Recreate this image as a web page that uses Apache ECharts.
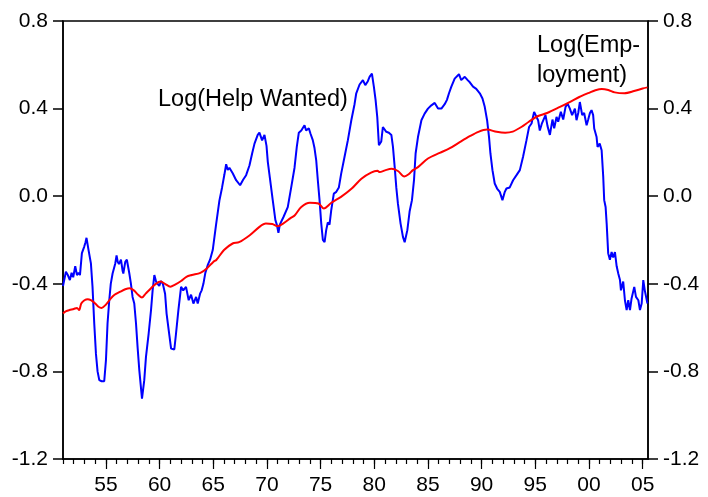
<!DOCTYPE html>
<html>
<head>
<meta charset="utf-8">
<script src="https://cdn.jsdelivr.net/npm/echarts@6/dist/echarts.min.js"></script>
<style>
  html, body { margin: 0; padding: 0; background: #fff; }
  #chart { width: 708px; height: 497px; }
</style>
</head>
<body>
<div id="chart"></div>
<script>
// log of help-wanted index, [year, value]
const helpWanted = [
  [1951.0, -0.41], [1951.27, -0.345], [1951.45, -0.36], [1951.64, -0.383], [1951.8, -0.35],
  [1951.95, -0.37], [1952.14, -0.32], [1952.3, -0.36], [1952.45, -0.35], [1952.58, -0.36],
  [1952.76, -0.26], [1952.98, -0.23], [1953.1, -0.21], [1953.19, -0.19], [1953.38, -0.246],
  [1953.6, -0.307], [1953.75, -0.414], [1953.91, -0.58], [1954.07, -0.72], [1954.22, -0.8],
  [1954.38, -0.84], [1954.6, -0.845], [1954.84, -0.845], [1955.0, -0.75], [1955.15, -0.58],
  [1955.31, -0.475], [1955.45, -0.4], [1955.62, -0.353], [1955.87, -0.307], [1955.99, -0.27],
  [1956.1, -0.3], [1956.21, -0.31], [1956.4, -0.29], [1956.55, -0.34], [1956.62, -0.353],
  [1956.8, -0.3], [1956.95, -0.29], [1957.18, -0.353], [1957.33, -0.4], [1957.48, -0.46],
  [1957.64, -0.49], [1957.8, -0.58], [1957.95, -0.69], [1958.11, -0.795], [1958.36, -0.924],
  [1958.57, -0.84], [1958.73, -0.734], [1958.98, -0.627], [1959.2, -0.52], [1959.35, -0.43],
  [1959.51, -0.36], [1959.67, -0.39], [1959.82, -0.4], [1959.97, -0.41], [1960.13, -0.387],
  [1960.3, -0.4], [1960.51, -0.445], [1960.65, -0.536], [1960.91, -0.635], [1961.07, -0.696],
  [1961.37, -0.7], [1961.53, -0.627], [1961.75, -0.52], [1962.0, -0.414], [1962.2, -0.43],
  [1962.46, -0.414], [1962.71, -0.475], [1962.93, -0.45], [1963.15, -0.49], [1963.4, -0.46],
  [1963.55, -0.49], [1963.77, -0.445], [1963.92, -0.43], [1964.08, -0.4], [1964.26, -0.35],
  [1964.48, -0.315], [1964.7, -0.29], [1964.95, -0.246], [1965.26, -0.13], [1965.57, -0.02],
  [1965.82, 0.04], [1966.04, 0.1], [1966.2, 0.146], [1966.35, 0.12], [1966.5, 0.13],
  [1966.81, 0.105], [1967.13, 0.073], [1967.5, 0.05], [1967.78, 0.075], [1968.06, 0.096],
  [1968.37, 0.14], [1968.62, 0.195], [1968.84, 0.24], [1969.14, 0.28], [1969.3, 0.29],
  [1969.55, 0.255], [1969.77, 0.28], [1969.96, 0.23], [1970.08, 0.157], [1970.3, 0.073],
  [1970.54, -0.018], [1970.79, -0.11], [1970.92, -0.13], [1971.07, -0.167], [1971.2, -0.13],
  [1971.33, -0.125], [1971.54, -0.095], [1971.7, -0.1], [1971.94, -0.05], [1972.26, 0.04],
  [1972.57, 0.13], [1972.78, 0.225], [1972.97, 0.29], [1973.2, 0.3], [1973.5, 0.324],
  [1973.65, 0.3], [1973.9, 0.31], [1974.06, 0.285], [1974.27, 0.256], [1974.43, 0.22],
  [1974.59, 0.164], [1974.74, 0.073], [1974.9, -0.018], [1975.06, -0.125], [1975.21, -0.2],
  [1975.37, -0.21], [1975.52, -0.155], [1975.67, -0.12], [1975.83, -0.13], [1975.99, -0.064],
  [1976.23, 0.012], [1976.46, 0.02], [1976.7, 0.04], [1976.92, 0.104], [1977.23, 0.18],
  [1977.54, 0.256], [1977.86, 0.347], [1978.16, 0.42], [1978.32, 0.47], [1978.63, 0.51],
  [1978.94, 0.53], [1979.16, 0.507], [1979.4, 0.525], [1979.56, 0.545], [1979.78, 0.56],
  [1979.96, 0.5], [1980.12, 0.44], [1980.28, 0.36], [1980.43, 0.233], [1980.65, 0.25],
  [1980.8, 0.316], [1980.96, 0.325], [1981.12, 0.294], [1981.36, 0.29], [1981.59, 0.28],
  [1981.74, 0.225], [1981.9, 0.134], [1982.05, 0.04], [1982.2, -0.033], [1982.45, -0.125],
  [1982.67, -0.186], [1982.83, -0.21], [1983.08, -0.155], [1983.29, -0.07], [1983.51, -0.018],
  [1983.7, 0.073], [1983.85, 0.195], [1984.07, 0.27], [1984.39, 0.347], [1984.69, 0.377],
  [1985.0, 0.4], [1985.32, 0.415], [1985.63, 0.426], [1985.94, 0.4], [1986.25, 0.4],
  [1986.56, 0.42], [1986.77, 0.44], [1986.96, 0.47], [1987.18, 0.5], [1987.49, 0.537],
  [1987.89, 0.557], [1988.1, 0.53], [1988.43, 0.545], [1988.7, 0.53], [1988.9, 0.52],
  [1989.2, 0.5], [1989.5, 0.49], [1989.83, 0.47], [1990.08, 0.446], [1990.29, 0.408],
  [1990.51, 0.347], [1990.69, 0.27], [1990.82, 0.195], [1991.01, 0.119], [1991.22, 0.058],
  [1991.44, 0.035], [1991.69, 0.02], [1991.94, -0.018], [1992.16, 0.02], [1992.31, 0.035],
  [1992.62, 0.04], [1992.93, 0.073], [1993.25, 0.096], [1993.56, 0.119], [1993.86, 0.18],
  [1994.18, 0.256], [1994.42, 0.316], [1994.65, 0.332], [1994.89, 0.385], [1995.05, 0.39],
  [1995.26, 0.347], [1995.42, 0.3], [1995.6, 0.33], [1995.95, 0.37], [1996.14, 0.32],
  [1996.36, 0.28], [1996.6, 0.35], [1996.76, 0.31], [1996.98, 0.362], [1997.13, 0.34],
  [1997.38, 0.385], [1997.6, 0.35], [1997.82, 0.408], [1998.01, 0.423], [1998.22, 0.4],
  [1998.43, 0.37], [1998.69, 0.4], [1998.84, 0.347], [1999.0, 0.38], [1999.15, 0.43],
  [1999.37, 0.37], [1999.55, 0.38], [1999.78, 0.324], [1999.93, 0.35], [2000.09, 0.38],
  [2000.24, 0.393], [2000.39, 0.37], [2000.49, 0.309], [2000.71, 0.27], [2000.8, 0.225],
  [2001.0, 0.24], [2001.18, 0.21], [2001.33, 0.088], [2001.42, -0.018], [2001.55, -0.049],
  [2001.65, -0.125], [2001.79, -0.26], [2001.95, -0.29], [2002.11, -0.255], [2002.26, -0.28],
  [2002.42, -0.255], [2002.58, -0.32], [2002.73, -0.353], [2002.89, -0.383], [2002.98, -0.43],
  [2003.19, -0.39], [2003.35, -0.475], [2003.51, -0.52], [2003.66, -0.475], [2003.82, -0.52],
  [2003.97, -0.467], [2004.22, -0.414], [2004.38, -0.46], [2004.6, -0.475], [2004.75, -0.52],
  [2004.91, -0.49], [2005.06, -0.383], [2005.2, -0.43], [2005.45, -0.49]
];

// log of employment, [year, value]
const employment = [
  [1951.0, -0.535], [1951.3, -0.525], [1951.6, -0.52], [1952.0, -0.515], [1952.3, -0.51],
  [1952.5, -0.52], [1952.7, -0.49], [1953.0, -0.475], [1953.3, -0.47], [1953.6, -0.475],
  [1954.0, -0.49], [1954.3, -0.505], [1954.6, -0.51], [1955.0, -0.495], [1955.4, -0.47],
  [1955.8, -0.45], [1956.3, -0.437], [1956.8, -0.425], [1957.2, -0.42], [1957.6, -0.43],
  [1958.0, -0.45], [1958.35, -0.463], [1958.7, -0.445], [1959.2, -0.42], [1959.65, -0.4],
  [1960.1, -0.39], [1960.5, -0.4], [1961.0, -0.413], [1961.4, -0.405], [1962.0, -0.387],
  [1962.5, -0.368], [1963.0, -0.36], [1963.8, -0.35], [1964.4, -0.33], [1965.0, -0.3],
  [1965.3, -0.29], [1966.0, -0.246], [1966.8, -0.216], [1967.4, -0.21], [1968.4, -0.178],
  [1969.3, -0.14], [1969.9, -0.125], [1970.5, -0.127], [1971.0, -0.137], [1971.5, -0.125],
  [1972.2, -0.1], [1972.6, -0.087], [1973.2, -0.049], [1974.0, -0.03], [1974.8, -0.033],
  [1975.3, -0.056], [1976.0, -0.03], [1976.9, -0.003], [1977.9, 0.035], [1978.8, 0.08],
  [1979.7, 0.108], [1980.3, 0.116], [1980.5, 0.11], [1981.0, 0.118], [1981.6, 0.125],
  [1982.2, 0.115], [1982.8, 0.09], [1983.2, 0.1], [1983.6, 0.119], [1984.1, 0.134],
  [1985.0, 0.172], [1986.1, 0.198], [1987.0, 0.218], [1988.0, 0.248], [1988.9, 0.274],
  [1989.7, 0.294], [1990.5, 0.304], [1991.4, 0.294], [1992.2, 0.29], [1992.9, 0.295],
  [1993.7, 0.316], [1994.4, 0.34], [1995.2, 0.365], [1996.1, 0.38], [1997.3, 0.408],
  [1998.2, 0.43], [1999.1, 0.453], [2000.0, 0.472], [2000.6, 0.484], [2001.2, 0.49],
  [2001.8, 0.485], [2002.4, 0.474], [2003.3, 0.47], [2004.2, 0.48], [2005.0, 0.492],
  [2005.45, 0.497]
];

const yearTicks = [];
for (let y = 1951; y <= 2005; y++) yearTicks.push(y);
const labelYears = [1955, 1960, 1965, 1970, 1975, 1980, 1985, 1990, 1995, 2000, 2005];
const yMin = -1.2, yMax = 0.8, yStep = 0.4;
const xMin = 1951, xMax = 2005.5;

const font = "'Liberation Sans', Arial, sans-serif";
const black = '#000';

const yAxisBase = {
  type: 'value', min: yMin, max: yMax, interval: yStep,
  axisLine: { show: true, lineStyle: { color: black, width: 1.5 } },
  axisTick: { show: true, inside: false, length: 10, lineStyle: { color: black, width: 1.5 } },
  axisLabel: { color: black, fontSize: 21, fontFamily: font, margin: 15,
    formatter: v => v.toFixed(1) },
  splitLine: { show: false }
};

const chart = echarts.init(document.getElementById('chart'), null, { renderer: 'canvas' });
chart.setOption({
  animation: false,
  backgroundColor: '#fff',
  grid: { left: 63, right: 60, top: 21, bottom: 38, show: true, borderColor: black, borderWidth: 1.5 },
  xAxis: [
    {
      type: 'value', min: xMin, max: xMax,
      axisLine: { show: true, onZero: false, lineStyle: { color: black, width: 1.5 } },
      axisTick: { show: true, length: 5, customValues: yearTicks, lineStyle: { color: black, width: 1.2 } },
      axisLabel: { color: black, fontSize: 21, fontFamily: font, margin: 16,
        customValues: labelYears,
        formatter: v => String(Math.round(v) % 100).padStart(2, '0') },
      splitLine: { show: false }
    },
    {
      type: 'value', min: xMin, max: xMax, position: 'bottom',
      axisLine: { show: false, onZero: false },
      axisTick: { show: true, length: 10, customValues: labelYears, lineStyle: { color: black, width: 1.2 } },
      axisLabel: { show: false },
      splitLine: { show: false }
    }
  ],
  yAxis: [
    Object.assign({}, yAxisBase, { position: 'left' }),
    Object.assign({}, yAxisBase, { position: 'right' })
  ],
  graphic: [
    { type: 'text', left: 158, top: 88,
      style: { text: 'Log(Help Wanted)', fontSize: 23.5, fontFamily: font, fill: black } },
    { type: 'text', left: 537, top: 31,
      style: { text: 'Log(Emp-\nloyment)', fontSize: 23.5, fontFamily: font, fill: black,
        align: 'center', lineHeight: 30 } }
  ],
  series: [
    { type: 'line', name: 'Log(Help Wanted)', data: helpWanted, xAxisIndex: 0, yAxisIndex: 0,
      showSymbol: false, lineStyle: { color: '#0000ff', width: 2 }, z: 2 },
    { type: 'line', name: 'Log(Employment)', data: employment, xAxisIndex: 0, yAxisIndex: 0,
      showSymbol: false, smooth: 0.3, lineStyle: { color: '#ff0000', width: 2 }, z: 3 }
  ]
});
</script>
</body>
</html>
